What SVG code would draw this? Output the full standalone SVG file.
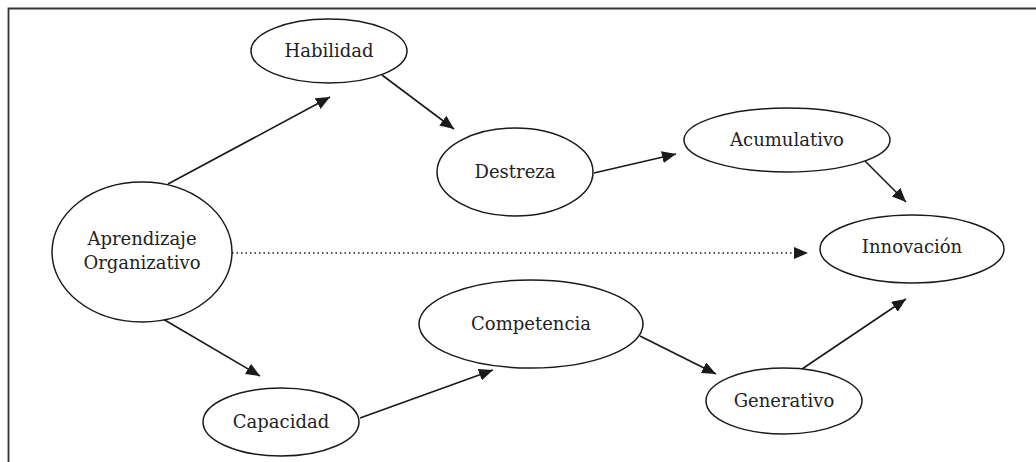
<svg xmlns="http://www.w3.org/2000/svg" width="1036" height="462" viewBox="0 0 1036 462">
<style>
.n ellipse{fill:#fff;stroke:#1a1a1a;stroke-width:1.5}
.n text{font-family:"DejaVu Serif","Liberation Serif",serif;font-size:18px;fill:#222;text-anchor:middle}
.c line{stroke:#1a1a1a;stroke-width:1.6}
</style>
<defs>
<marker id="ahb" viewBox="0 0 10 10" refX="10" refY="5" markerWidth="14" markerHeight="12" markerUnits="userSpaceOnUse" orient="auto" preserveAspectRatio="none">
<path d="M0,0 L10,5 L0,10 z" fill="#1a1a1a"/>
</marker>
</defs>
<rect width="1036" height="462" fill="#fff"/>
<path d="M8.5,462 V8.5 H1036" fill="none" stroke="#333" stroke-width="1.8"/>
<g class="c">
<line x1="168" y1="184" x2="330" y2="97" marker-end="url(#ahb)"/>
<line x1="382" y1="75" x2="454" y2="129" marker-end="url(#ahb)"/>
<line x1="594" y1="173" x2="676" y2="154" marker-end="url(#ahb)"/>
<line x1="865" y1="161" x2="906" y2="202" marker-end="url(#ahb)"/>
<line x1="232" y1="253" x2="808" y2="253" stroke-dasharray="1.5,3" marker-end="url(#ahb)"/>
<line x1="163" y1="319" x2="260" y2="376" marker-end="url(#ahb)"/>
<line x1="360" y1="418" x2="493" y2="370" marker-end="url(#ahb)"/>
<line x1="640" y1="336" x2="716" y2="374" marker-end="url(#ahb)"/>
<line x1="802" y1="369" x2="906" y2="299" marker-end="url(#ahb)"/>
</g>
<g id="aprendizaje" class="n"><ellipse cx="142" cy="252" rx="90" ry="70"/><text x="142" y="245">Aprendizaje</text><text x="142" y="269">Organizativo</text></g>
<g id="habilidad" class="n"><ellipse cx="329" cy="51" rx="78" ry="32"/><text x="329" y="57">Habilidad</text></g>
<g id="destreza" class="n"><ellipse cx="515" cy="172" rx="78" ry="44"/><text x="515" y="178">Destreza</text></g>
<g id="acumulativo" class="n"><ellipse cx="787" cy="140" rx="103" ry="32"/><text x="787" y="146">Acumulativo</text></g>
<g id="innovacion" class="n"><ellipse cx="912" cy="249" rx="92" ry="34"/><text x="912" y="253">Innovación</text></g>
<g id="capacidad" class="n"><ellipse cx="281" cy="422" rx="78" ry="34"/><text x="281" y="428">Capacidad</text></g>
<g id="competencia" class="n"><ellipse cx="531" cy="324" rx="112" ry="44"/><text x="531" y="330">Competencia</text></g>
<g id="generativo" class="n"><ellipse cx="784" cy="401" rx="78" ry="33"/><text x="784" y="407">Generativo</text></g>
</svg>
